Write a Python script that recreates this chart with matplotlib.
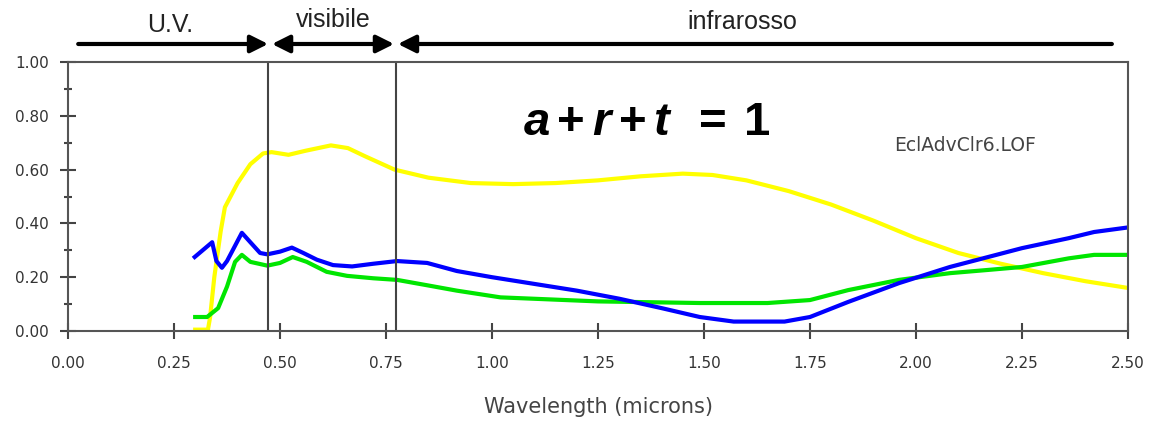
import matplotlib
matplotlib.use('Agg')
import matplotlib.pyplot as plt
from matplotlib.ticker import MultipleLocator, FormatStrFormatter

# curve data (microns, fraction)
yellow_x = [0.295, 0.33, 0.335, 0.345, 0.36, 0.37, 0.38, 0.40, 0.43, 0.46, 0.48, 0.52, 0.56,
            0.62, 0.66, 0.70, 0.77, 0.85, 0.95, 1.05, 1.15, 1.25, 1.35, 1.45, 1.52, 1.60,
            1.70, 1.80, 1.90, 2.00, 2.10, 2.20, 2.30, 2.40, 2.50]
yellow_y = [0.005, 0.005, 0.05, 0.20, 0.37, 0.46, 0.49, 0.55, 0.62, 0.66, 0.665, 0.655, 0.67,
            0.69, 0.68, 0.65, 0.60, 0.57, 0.55, 0.546, 0.55, 0.56, 0.575, 0.585, 0.58, 0.56,
            0.52, 0.47, 0.41, 0.345, 0.29, 0.25, 0.215, 0.185, 0.16]

blue_x = [0.295, 0.34, 0.35, 0.363, 0.375, 0.41, 0.43, 0.453, 0.47, 0.50, 0.528, 0.555,
          0.587, 0.625, 0.67, 0.72, 0.776, 0.847, 0.917, 1.0, 1.1, 1.2, 1.3, 1.4, 1.49,
          1.57, 1.69, 1.75, 1.84, 1.96, 2.08, 2.17, 2.25, 2.36, 2.42, 2.50]
blue_y = [0.27, 0.33, 0.26, 0.235, 0.26, 0.365, 0.33, 0.29, 0.285, 0.295, 0.31, 0.29,
          0.265, 0.245, 0.24, 0.25, 0.26, 0.253, 0.223, 0.20, 0.175, 0.15, 0.12, 0.085, 0.052,
          0.035, 0.035, 0.052, 0.108, 0.178, 0.238, 0.275, 0.308, 0.345, 0.368, 0.385]

green_x = [0.295, 0.328, 0.354, 0.375, 0.394, 0.41, 0.43, 0.47, 0.50, 0.53, 0.563, 0.61,
           0.658, 0.72, 0.776, 0.847, 0.917, 1.02, 1.25, 1.49, 1.65, 1.75, 1.84, 1.96,
           2.08, 2.17, 2.25, 2.36, 2.42, 2.50]
green_y = [0.052, 0.052, 0.085, 0.165, 0.257, 0.283, 0.257, 0.243, 0.253, 0.275, 0.257, 0.22,
           0.205, 0.196, 0.19, 0.17, 0.15, 0.125, 0.11, 0.104, 0.104, 0.115, 0.152, 0.19,
           0.215, 0.227, 0.238, 0.27, 0.283, 0.283]

bounds = [0.472, 0.774]  # uv / visibile / infrarosso

fig = plt.figure(figsize=(11.51, 4.21), dpi=100)
ax = fig.add_axes([0.0591, 0.2138, 0.9209, 0.6389])

ax.plot(yellow_x, yellow_y, color='#ffff00', lw=3, solid_capstyle='butt')
ax.plot(green_x, green_y, color='#00e600', lw=3, solid_capstyle='butt')
ax.plot(blue_x, blue_y, color='#0000ff', lw=3, solid_capstyle='butt')

for b in bounds:
    ax.axvline(b, color='#444444', lw=1.5)

ax.set_xlim(0, 2.5)
ax.set_ylim(0, 1.0)
ax.xaxis.set_major_locator(MultipleLocator(0.25))
ax.yaxis.set_major_locator(MultipleLocator(0.2))
ax.yaxis.set_minor_locator(MultipleLocator(0.1))
ax.xaxis.set_major_formatter(FormatStrFormatter('%.2f'))
ax.yaxis.set_major_formatter(FormatStrFormatter('%.2f'))
ax.tick_params(which='major', direction='inout', length=12, width=1.5, color='#444444',
               labelsize=11, labelcolor='#333333')
ax.tick_params(which='minor', direction='inout', length=6, width=1.5, color='#444444')
ax.tick_params(axis='x', pad=12)
ax.tick_params(axis='y', pad=8)
for s in ax.spines.values():
    s.set_color('#555555')
    s.set_linewidth(1.5)

ax.set_xlabel('Wavelength (microns)', fontsize=15, color='#444444', labelpad=19)

# region arrows above the plot
ya = 1.067
arr = dict(mutation_scale=15, lw=3, color='black', shrinkA=0, shrinkB=0)
ax.annotate('', xy=(bounds[0], ya), xytext=(0.024, ya), annotation_clip=False,
            arrowprops=dict(arrowstyle='-|>,head_length=0.7,head_width=0.35', **arr))
ax.annotate('', xy=(0.769, ya), xytext=(0.481, ya), annotation_clip=False,
            arrowprops=dict(arrowstyle='<|-|>,head_length=0.7,head_width=0.35', **arr))
ax.annotate('', xy=(0.778, ya), xytext=(2.462, ya), annotation_clip=False,
            arrowprops=dict(arrowstyle='-|>,head_length=0.7,head_width=0.35', **arr))

tfont = dict(fontsize=18, color='#222222', family=['Liberation Sans', 'DejaVu Sans'],
             ha='center', va='center', clip_on=False)
ax.text(0.24, 1.138, 'U.V.', **tfont)
ax.text(0.625, 1.156, 'visibile', **tfont)
ax.text(1.59, 1.149, 'infrarosso', **tfont)

plt.rcParams['mathtext.fontset'] = 'custom'
plt.rcParams['mathtext.rm'] = 'Liberation Sans'
plt.rcParams['mathtext.bf'] = 'Liberation Sans:bold'
plt.rcParams['mathtext.bfit'] = 'Liberation Sans:italic:bold'
ax.text(1.366, 0.775,
        r'$\mathbfit{a}\,\mathbf{+}\,\mathbfit{r}\,\mathbf{+}\,\mathbfit{t}\;\,\mathbf{=}\,\mathbf{1}$',
        fontsize=34, ha='center', va='center', color='black')
ax.text(2.115, 0.688, 'EclAdvClr6.LOF', fontsize=13.5, color='#444444', ha='center', va='center')

fig.savefig('out.png', dpi=100)
